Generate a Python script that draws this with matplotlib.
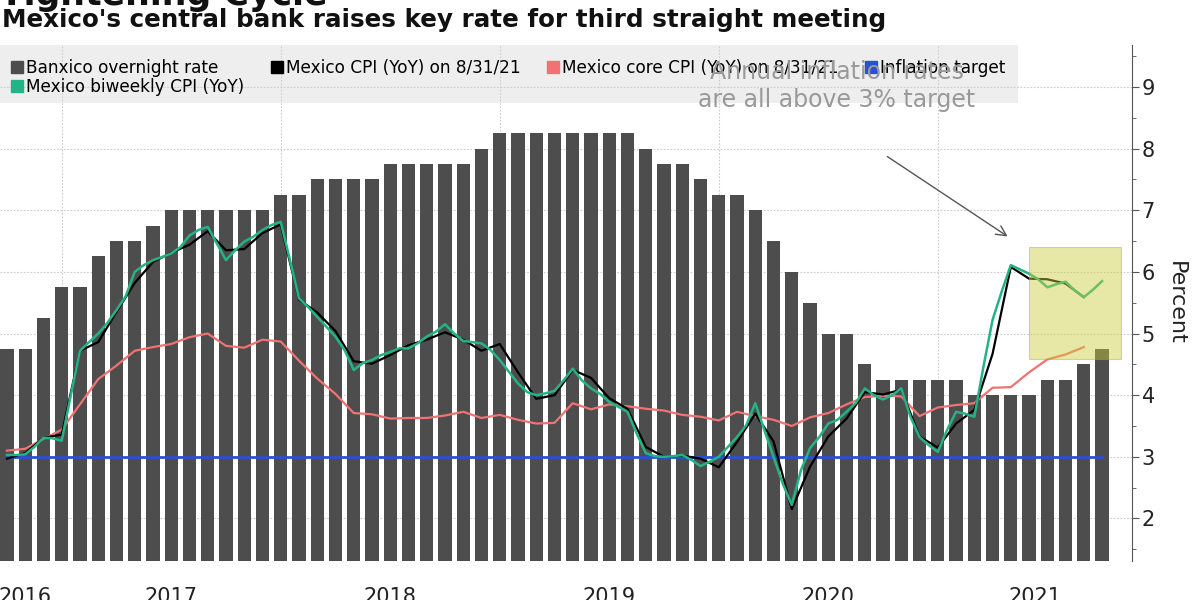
import matplotlib
matplotlib.use("Agg")
import matplotlib.pyplot as plt
from matplotlib.patches import Rectangle
from matplotlib.lines import Line2D
import numpy as np

# ---------------- data ----------------
# monthly, Sep 2016 .. Sep 2021 (month-end)
banxico_rate = [4.75, 4.75, 5.25, 5.75,
                5.75, 6.25, 6.5, 6.5, 6.75, 7.0, 7.0, 7.0, 7.0, 7.0, 7.0, 7.25,
                7.25, 7.5, 7.5, 7.5, 7.5, 7.75, 7.75, 7.75, 7.75, 7.75, 8.0, 8.25,
                8.25, 8.25, 8.25, 8.25, 8.25, 8.25, 8.25, 8.0, 7.75, 7.75, 7.5, 7.25,
                7.25, 7.0, 6.5, 6.0, 5.5, 5.0, 5.0, 4.5, 4.25, 4.25, 4.25, 4.25,
                4.25, 4.0, 4.0, 4.0, 4.0, 4.25, 4.25, 4.5, 4.75]

# monthly, Sep 2016 .. Aug 2021
cpi_yoy = [2.97, 3.06, 3.31, 3.36,
           4.72, 4.86, 5.35, 5.82, 6.16, 6.31, 6.44, 6.66, 6.35, 6.37, 6.63, 6.77,
           5.55, 5.34, 5.04, 4.55, 4.51, 4.65, 4.81, 4.90, 5.02, 4.90, 4.72, 4.83,
           4.37, 3.94, 4.00, 4.41, 4.28, 3.95, 3.78, 3.16, 3.00, 3.02, 2.97, 2.83,
           3.24, 3.70, 3.25, 2.15, 2.84, 3.33, 3.62, 4.05, 4.01, 4.09, 3.33, 3.15,
           3.54, 3.76, 4.67, 6.08, 5.89, 5.88, 5.81, 5.59]

core_cpi_yoy = [3.10, 3.13, 3.29, 3.44,
                3.85, 4.26, 4.48, 4.72, 4.78, 4.83, 4.94, 5.00, 4.80, 4.77, 4.90, 4.87,
                4.56, 4.27, 4.02, 3.71, 3.69, 3.62, 3.63, 3.63, 3.67, 3.73, 3.63, 3.68,
                3.60, 3.54, 3.55, 3.87, 3.77, 3.85, 3.82, 3.78, 3.75, 3.68, 3.65, 3.59,
                3.73, 3.66, 3.60, 3.50, 3.64, 3.71, 3.85, 3.97, 3.99, 3.98, 3.66, 3.80,
                3.84, 3.87, 4.12, 4.13, 4.37, 4.58, 4.66, 4.78]

# biweekly, half-month steps from late Sep 2016 to 1H Sep 2021
biweekly_cpi_yoy = [3.03, 3.03, 3.04, 3.16, 3.31, 3.30, 3.26, 4.00, 4.72, 4.86,
                    5.00, 5.17, 5.38, 5.60, 6.00, 6.11, 6.19, 6.24, 6.30, 6.40,
                    6.59, 6.68, 6.73, 6.46, 6.19, 6.35, 6.49, 6.57, 6.68, 6.76,
                    6.81, 6.20, 5.57, 5.43, 5.27, 5.11, 4.95, 4.73, 4.41, 4.52,
                    4.57, 4.65, 4.70, 4.76, 4.76, 4.84, 4.95, 5.03, 5.15, 5.00,
                    4.88, 4.86, 4.84, 4.73, 4.57, 4.38, 4.19, 4.05, 4.00, 4.03,
                    4.07, 4.24, 4.43, 4.24, 4.11, 4.02, 3.89, 3.81, 3.73, 3.38,
                    3.06, 3.01, 3.00, 3.01, 3.03, 2.95, 2.85, 2.92, 3.00, 3.16,
                    3.32, 3.51, 3.87, 3.43, 3.00, 2.57, 2.22, 2.78, 3.14, 3.32,
                    3.54, 3.60, 3.73, 3.87, 4.11, 4.00, 3.93, 4.00, 4.11, 3.65,
                    3.32, 3.19, 3.08, 3.43, 3.73, 3.70, 3.65, 4.46, 5.22, 5.68,
                    6.11, 6.04, 5.97, 5.88, 5.75, 5.80, 5.84, 5.70, 5.59, 5.71,
                    5.85]

inflation_target = 3.0
year_labels = ["2016", "2017", "2018", "2019", "2020", "2021"]

# ---------------- figure ----------------
plt.rcParams['font.family'] = ['DejaVu Sans']
fig = plt.figure(figsize=(12, 6), dpi=100)
ax = fig.add_axes([0.0, 0.065, 1132 / 1200, 0.86])

x_bar = np.arange(len(banxico_rate))
x_cpi = np.arange(len(cpi_yoy))
x_core = np.arange(len(core_cpi_yoy))
x_bw = np.arange(len(biweekly_cpi_yoy)) * 0.5

ax.set_xlim(-0.38, 61.64)
ax.set_ylim(1.31, 9.68)

# legend background
ax.add_patch(Rectangle((0, 0.888), 0.899, 0.112, transform=ax.transAxes,
                       facecolor='#eeeeee', edgecolor='none', zorder=0.3))

ax.bar(x_bar, banxico_rate, width=0.72, color='#4d4d4d', zorder=2)
ax.plot([0, 60], [inflation_target, inflation_target], color='#2a50d4', lw=2, zorder=3)
ax.plot(x_core, core_cpi_yoy, color='#f07272', lw=1.6, zorder=3)
ax.plot(x_cpi, cpi_yoy, color='#000000', lw=1.6, zorder=4)
ax.plot(x_bw, biweekly_cpi_yoy, color='#22b487', lw=1.8, zorder=5)

# highlight box
ax.add_patch(Rectangle((56.0, 4.58), 5.04, 1.82, facecolor='#cccc3a', alpha=0.45,
                       edgecolor='#a8a830', lw=0.8, zorder=6))

# grid
for yv in range(2, 10):
    ax.axhline(yv, color='#cccccc', lw=0.8, ls=(0, (1.5, 1.5)), zorder=1)
for xv in [3, 15, 27, 39, 51]:
    ax.axvline(xv, color='#cccccc', lw=0.8, ls=(0, (1.5, 1.5)), zorder=1)

# spines / ticks
for s in ['top', 'left', 'bottom']:
    ax.spines[s].set_visible(False)
ax.spines['right'].set_color('#555555')
ax.yaxis.tick_right()
ax.yaxis.set_label_position('right')
ax.set_yticks(range(2, 10))
ax.set_yticks(np.arange(1.5, 9.6, 1.0), minor=True)
ax.tick_params(axis='y', which='major', length=5, color='#555555', labelsize=15,
               pad=2, labelcolor='#222222')
ax.tick_params(axis='y', which='minor', length=3, color='#555555')
ax.set_ylabel('Percent', rotation=270, fontsize=16, labelpad=22, color='#222222')

ax.set_xticks([1.0, 9, 21, 33, 45, 56.3])
ax.set_xticklabels(year_labels)
ax.tick_params(axis='x', length=0, pad=19, labelsize=15, labelcolor='#222222')

# legend
handles = [
    Line2D([], [], marker='s', ls='none', color='#4d4d4d', markersize=9),
    Line2D([], [], marker='s', ls='none', color='#22b487', markersize=9),
    Line2D([], [], marker='s', ls='none', color='#000000', markersize=9),
    Line2D([], [], marker='s', ls='none', color='#f07272', markersize=9),
    Line2D([], [], marker='s', ls='none', color='#2a50d4', markersize=9),
]
labels = ['Banxico overnight rate', 'Mexico biweekly CPI (YoY)',
          'Mexico CPI (YoY) on 8/31/21', 'Mexico core CPI (YoY) on 8/31/21',
          'Inflation target']
leg = ax.legend(handles, labels, ncol=4, loc='upper left', bbox_to_anchor=(0.003, 0.99),
                frameon=False, fontsize=12.2, handlelength=0.6, handletextpad=0.25,
                columnspacing=1.6, labelspacing=0.1, borderaxespad=0.3, borderpad=0.2)
leg.set_zorder(7)

# annotation
ax.text(0.739, 0.9205, 'Annual inflation rates\nare all above 3% target',
        transform=ax.transAxes, ha='center', va='center', fontsize=17,
        color='#999999', linespacing=1.2, zorder=8)
ax.annotate('', xy=(1010 / 1132, (561 - 238) / 516), xycoords='axes fraction',
            xytext=(885 / 1132, (561 - 155) / 516), textcoords='axes fraction',
            arrowprops=dict(arrowstyle='->', color='#555555', lw=1.0,
                            mutation_scale=18), zorder=8)

# titles
fig.text(0.002, 1 - 20 / 600, "Mexico's central bank raises key rate for third straight meeting",
         fontsize=17.7, fontweight='bold', va='center', ha='left', color='#111111')
fig.text(0.0, 1 - 5 / 600, "Tightening Cycle", fontsize=25, fontweight='bold',
         va='baseline', ha='left', color='#111111')

fig.savefig('out.png', dpi=100)
